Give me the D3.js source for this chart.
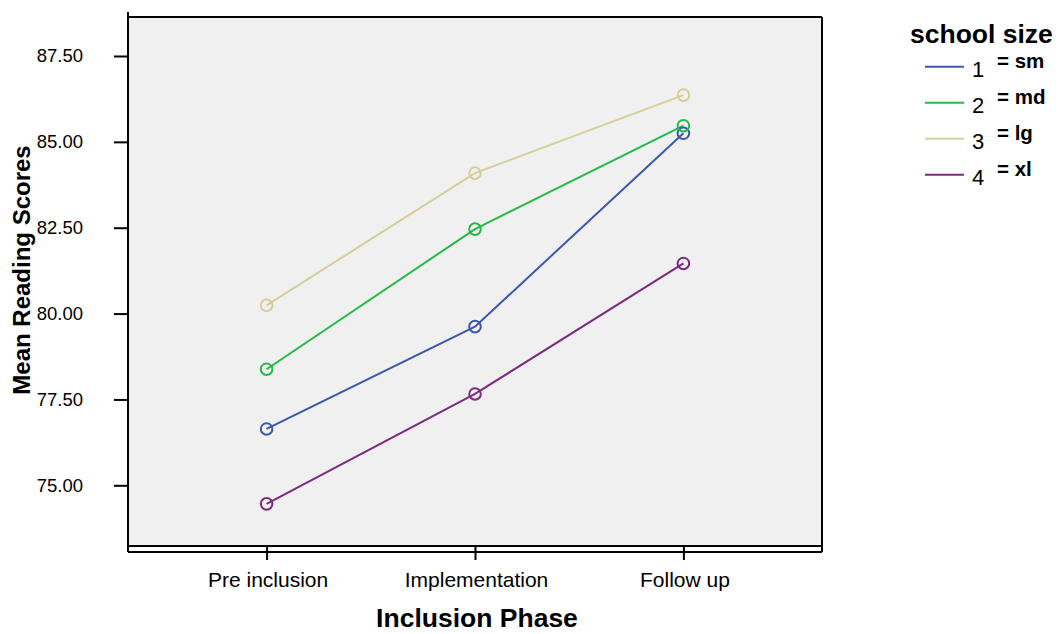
<!DOCTYPE html>
<html>
<head>
<meta charset="utf-8">
<script src="https://cdn.jsdelivr.net/npm/d3@7"></script>
<style>
  html, body { margin: 0; padding: 0; background: #fff; }
  svg { display: block; font-family: "Liberation Sans", Arial, Helvetica, sans-serif; }
</style>
</head>
<body>
<svg id="chart" width="1060" height="634"></svg>
<script>
// ---- data ----
const phases = ["Pre inclusion", "Implementation", "Follow up"];
const seriesNames = ["1", "2", "3", "4"];
const seriesLabels = ["= sm", "= md", "= lg", "= xl"];
const sm = [76.64, 79.62, 85.25];
const md = [78.38, 82.46, 85.47];
const lg = [80.24, 84.09, 86.36];
const xl = [74.46, 77.66, 81.46];
const yTicks = [75, 77.5, 80, 82.5, 85, 87.5];
const colors = ["#3d58ab", "#25b94a", "#d4cf98", "#7b2a80"];

const seriesValues = [sm, md, lg, xl];

// ---- layout ----
const svg = d3.select("#chart");
const plot = { left: 128, right: 822, top: 17, bottom: 546 };

const x = d3.scalePoint().domain(phases).range([plot.left, plot.right]).padding(0.665);
const y = d3.scaleLinear().domain([75, 87.5]).range([485.3, 56]);

// plot background
svg.append("rect")
  .attr("x", plot.left).attr("y", plot.top)
  .attr("width", plot.right - plot.left).attr("height", plot.bottom - plot.top)
  .attr("fill", "#f0f0f0");

// frame
const frame = svg.append("g").attr("stroke", "#000").attr("stroke-width", 2).attr("fill", "none");
frame.append("line").attr("x1", plot.left).attr("x2", plot.right).attr("y1", plot.top).attr("y2", plot.top);
frame.append("line").attr("x1", plot.right).attr("x2", plot.right).attr("y1", plot.top).attr("y2", 552);
frame.append("line").attr("x1", plot.left).attr("x2", plot.right).attr("y1", plot.bottom).attr("y2", plot.bottom);
frame.append("line").attr("x1", plot.left).attr("x2", plot.right).attr("y1", 552).attr("y2", 552);
frame.append("line").attr("x1", plot.left).attr("x2", plot.left).attr("y1", 12).attr("y2", 552);

// y axis
const yAxis = d3.axisLeft(y).tickValues(yTicks).tickFormat(d3.format(".2f")).tickSize(14).tickPadding(31);
const gy = svg.append("g").attr("transform", `translate(${plot.left},0)`).call(yAxis);
gy.select(".domain").remove();
gy.selectAll(".tick line").attr("stroke", "#000").attr("stroke-width", 2);
gy.selectAll(".tick text").attr("fill", "#000").style("font-size", "18.5px")
  .style("font-family", "'Liberation Sans', Arial, sans-serif");

// x axis
const xAxis = d3.axisBottom(x).tickSize(14).tickPadding(12);
const gx = svg.append("g").attr("transform", `translate(0,${plot.bottom})`).call(xAxis);
gx.select(".domain").remove();
gx.selectAll(".tick line").attr("stroke", "#000").attr("stroke-width", 2);
gx.selectAll(".tick text").attr("fill", "#000").style("font-size", "21px")
  .attr("dx", 1)
  .style("font-family", "'Liberation Sans', Arial, sans-serif");

// axis titles
svg.append("text")
  .attr("x", 477).attr("y", 627)
  .attr("text-anchor", "middle")
  .style("font-size", "26.5px").style("font-weight", "bold")
  .text("Inclusion Phase");

svg.append("text")
  .attr("transform", "translate(30,270) rotate(-90)")
  .attr("text-anchor", "middle")
  .style("font-size", "24px").style("font-weight", "bold")
  .text("Mean Reading Scores");

// lines and points
const line = d3.line().x((d, i) => x(phases[i])).y(d => y(d));
const gSeries = svg.append("g");
seriesValues.forEach((vals, si) => {
  gSeries.append("path")
    .attr("d", line(vals))
    .attr("fill", "none")
    .attr("stroke", colors[si])
    .attr("stroke-width", 2);
});
seriesValues.forEach((vals, si) => {
  gSeries.selectAll(null).data(vals).enter().append("circle")
    .attr("cx", (d, i) => x(phases[i]))
    .attr("cy", d => y(d))
    .attr("r", 5.8)
    .attr("fill", "none")
    .attr("stroke", colors[si])
    .attr("stroke-width", 2);
});

// legend
const legend = svg.append("g");
legend.append("text")
  .attr("x", 910).attr("y", 43)
  .style("font-size", "26.5px").style("font-weight", "bold")
  .text("school size");
seriesNames.forEach((name, i) => {
  const ly = 66.7 + i * 36;
  legend.append("line")
    .attr("x1", 925).attr("x2", 964)
    .attr("y1", ly).attr("y2", ly)
    .attr("stroke", colors[i]).attr("stroke-width", 2);
  legend.append("text")
    .attr("x", 972).attr("y", ly + 10)
    .style("font-size", "22px")
    .text(name);
  legend.append("text")
    .attr("x", 997).attr("y", ly + 1)
    .style("font-size", "20.5px").style("font-weight", "bold")
    .text(seriesLabels[i]);
});
</script>
</body>
</html>
